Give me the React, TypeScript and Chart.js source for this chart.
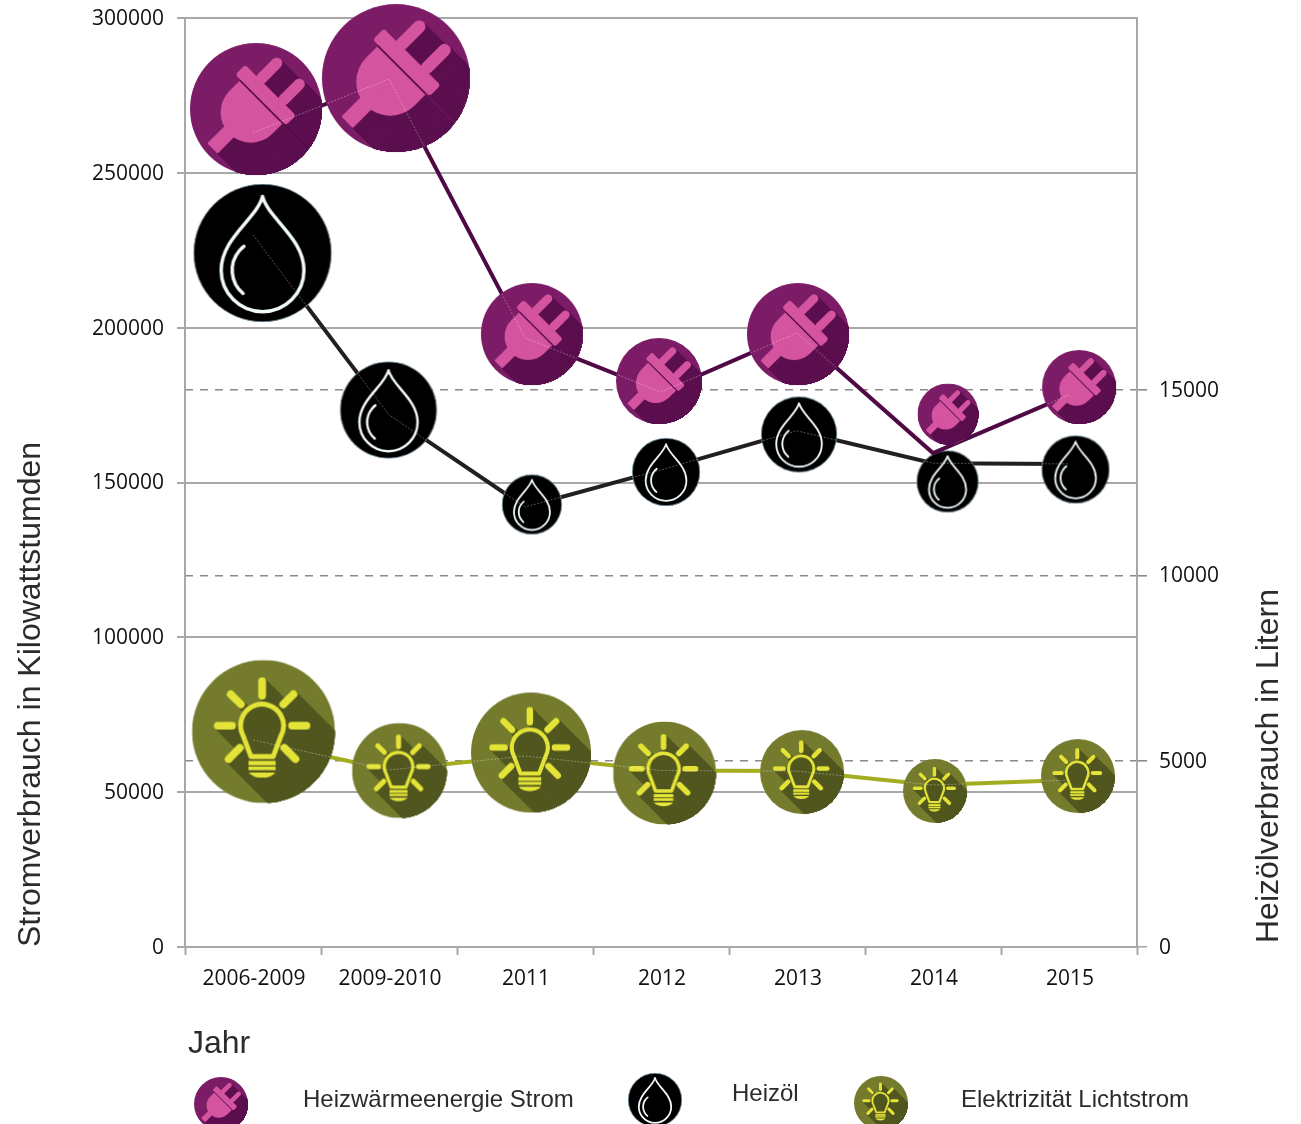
import React, { useEffect, useRef } from "react";
import { Chart, registerables } from "chart.js";

Chart.register(...registerables);

const years = ["2006-2009", "2009-2010", "2011", "2012", "2013", "2014", "2015"];

// Line values
const stromKwh = [262900, 280300, 196700, 179200, 198300, 159500, 178300];
const heizoelLiter = [19160, 14320, 11840, 12840, 13890, 13020, 13000];
const lichtKwh = [66850, 57160, 61680, 57000, 56800, 52300, 53900];

// Icon bubbles: centre on the hidden linear x axis (band index) and on the value axis
const stromIconX = [0.022, 1.051, 2.051, 2.985, 4.007, 5.11, 6.074];
const stromIconY = [270610, 280620, 197950, 182780, 197950, 172120, 180840];
const stromIconR = [66, 74, 51, 43, 51, 30.5, 37];

const heizoelIconX = [0.07, 0.996, 2.051, 3.037, 4.015, 5.107, 6.048];
const heizoelIconY = [18676, 14451, 11908, 12783, 13792, 12527, 12850];
const heizoelIconR = [69, 48.5, 30, 34, 38, 31, 34];

const lichtIconX = [0.077, 1.077, 2.044, 3.026, 4.037, 5.015, 6.066];
const lichtIconY = [69590, 57000, 62810, 56190, 56510, 50380, 55220];
const lichtIconR = [71.5, 47.5, 60, 51.5, 42, 32, 37];

const leftTitle = "Stromverbrauch in Kilowattstumden";
const rightTitle = "Heizölverbrauch in Litern";
const xTitle = "Jahr";
const legendLabels = ["Heizwärmeenergie Strom", "Heizöl", "Elektrizität Lichtstrom"];

const SANS = '"Liberation Sans", Arial, sans-serif';
const TICK_FONT = { family: '"Open Sans", sans-serif', size: 21 };
const GRID = "#a8a8a8";

type Kind = "plug" | "drop" | "bulb";

function plugShapes(ctx: CanvasRenderingContext2D) {
  ctx.save();
  ctx.rotate(Math.PI / 4);
  ctx.beginPath();
  ctx.roundRect(-0.59, -0.36, 1.085, 0.215, 0.05);
  ctx.fill();
  ctx.beginPath();
  ctx.roundRect(-0.355, -0.8, 0.17, 0.5, 0.085);
  ctx.roundRect(0.112, -0.815, 0.17, 0.5, 0.085);
  ctx.fill();
  ctx.beginPath();
  ctx.moveTo(-0.48, -0.125);
  ctx.lineTo(0.44, -0.125);
  ctx.lineTo(0.44, 0.09);
  ctx.arc(-0.02, 0.09, 0.46, 0, Math.PI);
  ctx.closePath();
  ctx.fill();
  ctx.beginPath();
  ctx.roundRect(-0.155, 0.3, 0.22, 0.59, 0.02);
  ctx.fill();
  ctx.restore();
}

const BULB_X = -0.02;
const BULB_Y = -0.083;
const rayAngles = [-90, -45, -135, 0, 180, 45, 135];

function bulbRays(ctx: CanvasRenderingContext2D) {
  ctx.lineCap = "round";
  ctx.lineWidth = 0.11;
  for (const a of rayAngles) {
    const t = (a * Math.PI) / 180;
    const inner = a === 45 || a === 135 ? 0.44 : 0.42;
    const outer = a === 45 || a === 135 ? 0.66 : 0.62;
    ctx.beginPath();
    ctx.moveTo(BULB_X + Math.cos(t) * inner, BULB_Y + Math.sin(t) * inner);
    ctx.lineTo(BULB_X + Math.cos(t) * outer, BULB_Y + Math.sin(t) * outer);
    ctx.stroke();
  }
}

function bulbGlass(ctx: CanvasRenderingContext2D) {
  ctx.beginPath();
  ctx.arc(BULB_X, BULB_Y, 0.3, (152 * Math.PI) / 180, (28 * Math.PI) / 180);
  ctx.lineTo(BULB_X + 0.155, 0.35);
  ctx.lineTo(BULB_X - 0.155, 0.35);
  ctx.closePath();
}

function bulbBase(ctx: CanvasRenderingContext2D) {
  ctx.fillRect(BULB_X - 0.19, 0.41, 0.38, 0.062);
  ctx.fillRect(BULB_X - 0.19, 0.49, 0.38, 0.05);
  ctx.beginPath();
  ctx.moveTo(BULB_X - 0.185, 0.572);
  ctx.lineTo(BULB_X + 0.185, 0.572);
  ctx.quadraticCurveTo(BULB_X + 0.13, 0.645, BULB_X, 0.645);
  ctx.quadraticCurveTo(BULB_X - 0.13, 0.645, BULB_X - 0.185, 0.572);
  ctx.fill();
}

function makeIcon(kind: Kind, r: number): HTMLCanvasElement {
  const half = Math.ceil(r) + 1;
  const cv = document.createElement("canvas");
  cv.width = cv.height = half * 2;
  const ctx = cv.getContext("2d")!;
  ctx.translate(half, half);
  ctx.scale(r, r);
  ctx.save();
  ctx.beginPath();
  ctx.arc(0, 0, 1, 0, Math.PI * 2);
  ctx.clip();
  if (kind === "plug") {
    ctx.fillStyle = "#7c1b66";
    ctx.fillRect(-1, -1, 2, 2);
    ctx.fillStyle = "#5c0f4f";
    for (let d = 0; d < 1.8; d += 0.02) {
      ctx.save();
      ctx.translate(d, d);
      plugShapes(ctx);
      ctx.restore();
    }
    ctx.fillStyle = "#d4549f";
    plugShapes(ctx);
    ctx.save();
    ctx.rotate(Math.PI / 4);
    ctx.strokeStyle = "#5c0f4f";
    ctx.lineWidth = 0.022;
    ctx.beginPath();
    ctx.moveTo(-0.48, -0.135);
    ctx.lineTo(0.44, -0.135);
    ctx.stroke();
    ctx.restore();
  } else if (kind === "bulb") {
    ctx.fillStyle = "#757b2d";
    ctx.fillRect(-1, -1, 2, 2);
    ctx.fillStyle = ctx.strokeStyle = "#51571f";
    for (let d = 0; d < 1.8; d += 0.02) {
      ctx.save();
      ctx.translate(d, d);
      bulbRays(ctx);
      bulbGlass(ctx);
      ctx.fill();
      ctx.fillRect(BULB_X - 0.19, 0.35, 0.38, 0.27);
      ctx.restore();
    }
    ctx.fillStyle = ctx.strokeStyle = "#e4e438";
    bulbRays(ctx);
    ctx.lineWidth = 0.068;
    ctx.lineJoin = "round";
    bulbGlass(ctx);
    ctx.stroke();
    bulbBase(ctx);
  } else {
    ctx.fillStyle = "#000000";
    ctx.fillRect(-1, -1, 2, 2);
    ctx.strokeStyle = "#f2fafc";
    ctx.lineWidth = Math.max(0.05, 1.8 / r);
    ctx.lineJoin = "round";
    ctx.lineCap = "round";
    ctx.beginPath();
    ctx.moveTo(0, -0.82);
    ctx.bezierCurveTo(0.08, -0.5, 0.6, -0.22, 0.6, 0.25);
    ctx.arc(0, 0.25, 0.6, 0, Math.PI);
    ctx.bezierCurveTo(-0.6, -0.22, -0.08, -0.5, 0, -0.82);
    ctx.closePath();
    ctx.stroke();
    ctx.beginPath();
    ctx.arc(0, 0.25, 0.44, (130 * Math.PI) / 180, (232 * Math.PI) / 180);
    ctx.stroke();
  }
  ctx.restore();
  if (kind === "drop") {
    ctx.strokeStyle = "#a8d4e2";
    ctx.lineWidth = 0.6 / r;
    ctx.beginPath();
    ctx.arc(0, 0, 1 - 0.3 / r, 0, Math.PI * 2);
    ctx.stroke();
  }
  return cv;
}

const points = (xs: number[], ys: number[]) => xs.map((x, i) => ({ x, y: ys[i] }));

function iconDataset(label: string, kind: Kind, xs: number[], ys: number[], rs: number[], yAxisID: string, order: number) {
  return {
    type: "scatter" as const,
    label,
    data: points(xs, ys),
    xAxisID: "x2",
    yAxisID,
    order,
    clip: false,
    showLine: false,
    pointRadius: rs,
    pointBorderWidth: 0,
    pointStyle: rs.map((r) => makeIcon(kind, r)),
  };
}

function lineDataset(label: string, values: number[], color: string, yAxisID: string, order: number) {
  return {
    type: "line" as const,
    label,
    data: values,
    xAxisID: "x",
    yAxisID,
    order,
    clip: false,
    borderColor: color,
    borderWidth: 4,
    pointRadius: 0,
    tension: 0,
  };
}

// Faint traces of each line that show through its own icons
const ghostPlugin = {
  id: "ghost",
  afterDatasetsDraw(chart: any) {
    const { ctx } = chart;
    const pairs: [number, number, number[]][] = [
      [1, 0, lichtIconR],
      [3, 2, stromIconR],
      [5, 4, heizoelIconR],
    ];
    for (const [lineIdx, iconIdx, radii] of pairs) {
      const line = chart.getDatasetMeta(lineIdx).data;
      const icons = chart.getDatasetMeta(iconIdx).data;
      ctx.save();
      ctx.beginPath();
      icons.forEach((p: any, i: number) => {
        ctx.moveTo(p.x + radii[i], p.y);
        ctx.arc(p.x, p.y, radii[i], 0, Math.PI * 2);
      });
      ctx.clip();
      ctx.strokeStyle = "rgba(255,255,255,0.33)";
      ctx.lineWidth = 1;
      ctx.setLineDash([2, 1.5]);
      ctx.beginPath();
      line.forEach((p: any, i: number) => (i ? ctx.lineTo(p.x, p.y) : ctx.moveTo(p.x, p.y)));
      ctx.stroke();
      ctx.restore();
    }
  },
};

const legendIcons: { kind: Kind; x: number; y: number; tx: number; ty: number }[] = [
  { kind: "plug", x: 221, y: 1104, tx: 303, ty: 1100 },
  { kind: "drop", x: 655, y: 1100, tx: 732, ty: 1094 },
  { kind: "bulb", x: 881, y: 1103, tx: 961, ty: 1100 },
];

const annotationPlugin = {
  id: "annotations",
  afterDraw(chart: any) {
    const { ctx } = chart;
    ctx.save();
    ctx.fillStyle = "#2b2b2b";
    ctx.textBaseline = "middle";
    ctx.textAlign = "left";

    ctx.font = `32px ${SANS}`;
    ctx.fillText(xTitle, 188, 1044);

    ctx.save();
    ctx.translate(1269, 943);
    ctx.rotate(-Math.PI / 2);
    ctx.fillText(rightTitle, 0, 0);
    ctx.restore();

    ctx.font = `24px ${SANS}`;
    legendIcons.forEach((item, i) => {
      const img = makeIcon(item.kind, 27);
      ctx.drawImage(img, item.x - img.width / 2, item.y - img.height / 2);
      ctx.fillText(legendLabels[i], item.tx, item.ty);
    });
    ctx.restore();
  },
};

const plainNumber = (v: any) => String(v);

export default function App() {
  const ref = useRef<HTMLCanvasElement>(null);

  useEffect(() => {
    const chart = new Chart(ref.current!, {
      type: "line",
      data: {
        labels: years,
        datasets: [
          iconDataset("Elektrizität Lichtstrom (Symbol)", "bulb", lichtIconX, lichtIconY, lichtIconR, "y", 0),
          lineDataset("Elektrizität Lichtstrom", lichtKwh, "#a3ad20", "y", 1),
          iconDataset("Heizwärmeenergie Strom (Symbol)", "plug", stromIconX, stromIconY, stromIconR, "y", 2),
          lineDataset("Heizwärmeenergie Strom", stromKwh, "#4f0a46", "y", 3),
          iconDataset("Heizöl (Symbol)", "drop", heizoelIconX, heizoelIconY, heizoelIconR, "y1", 4),
          lineDataset("Heizöl", heizoelLiter, "#231f20", "y1", 5),
        ] as any,
      },
      plugins: [ghostPlugin, annotationPlugin],
      options: {
        responsive: false,
        animation: false,
        events: [],
        layout: { padding: { top: 18 }, autoPadding: false },
        plugins: { legend: { display: false }, tooltip: { enabled: false } },
        scales: {
          x: {
            type: "category",
            position: "bottom",
            offset: true,
            afterFit: (s: any) => { s.height = 177; },
            border: { color: GRID, width: 2 },
            grid: { offset: true, drawOnChartArea: false, tickLength: 8, tickColor: GRID, tickWidth: 2 },
            ticks: { font: TICK_FONT, color: "#111111", padding: 11, maxRotation: 0, autoSkip: false, labelOffset: 1 },
          },
          x2: { type: "linear", display: false, min: -0.5, max: 6.5 },
          y: {
            position: "left",
            min: 0,
            max: 300000,
            afterFit: (s: any) => { s.width = 185; s.paddingTop = 0; s.paddingBottom = 0; },
            title: {
              display: true,
              text: leftTitle,
              align: "start",
              color: "#2b2b2b",
              font: { family: SANS, size: 32 },
              padding: { top: 12, bottom: 0 },
            },
            border: { color: GRID, width: 2 },
            grid: { color: GRID, lineWidth: 2, tickLength: 8, z: 0 },
            ticks: { stepSize: 50000, font: TICK_FONT, color: "#111111", padding: 13, labelOffset: 1, callback: plainNumber },
          },
          y1: {
            position: "right",
            min: 0,
            max: 25000,
            afterFit: (s: any) => { s.width = 164; s.paddingTop = 0; s.paddingBottom = 0; },
            afterBuildTicks: (s: any) => { s.ticks = s.ticks.filter((t: any) => t.value <= 15000); },
            border: { color: GRID, width: 2, dash: [8, 7] },
            grid: {
              color: (c: any) => (c.tick && c.tick.value === 0 ? "rgba(0,0,0,0)" : "#8a8a8a"),
              tickColor: (c: any) => (c.tick && c.tick.value === 0 ? GRID : "#8a8a8a"),
              lineWidth: 1.6,
              tickLength: 10,
            },
            ticks: { stepSize: 5000, font: TICK_FONT, color: "#111111", padding: 12, labelOffset: 1, callback: plainNumber },
          },
        },
      } as any,
    });
    return () => chart.destroy();
  }, []);

  return (
    <canvas
      ref={ref}
      width={1301}
      height={1124}
      style={{ position: "absolute", left: 0, top: 0, display: "block" }}
    />
  );
}
